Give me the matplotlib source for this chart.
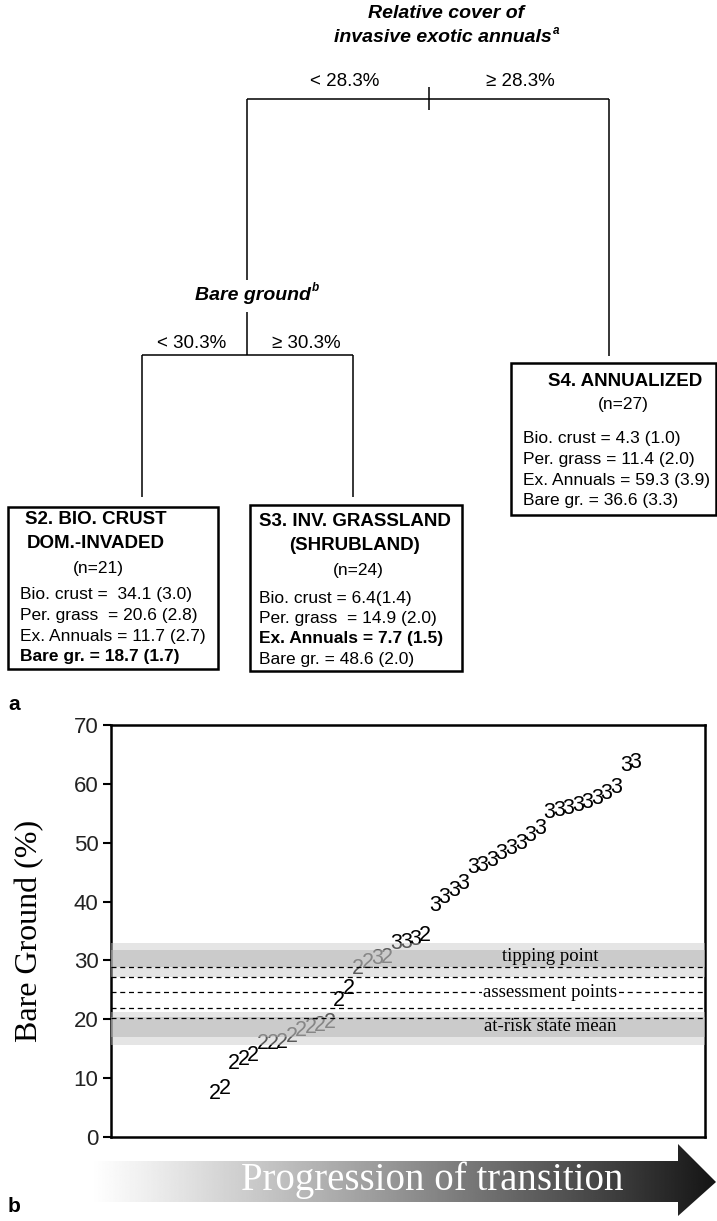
import numpy as np
import matplotlib
matplotlib.use("Agg")
import matplotlib.pyplot as plt
from matplotlib import font_manager
from matplotlib.patches import Rectangle, Polygon

plt.rcParams['font.family'] = ['Liberation Sans', 'DejaVu Sans']

# ---- panel b data: plots ranked along the transition ----
state_codes = list("22222222222222222" "323332" "3333333333333333333333")
bare_ground = [7.4, 8.3, 12.5, 13.1, 13.9, 15.9, 15.9, 16.1, 17.0, 18.1, 18.6,
               19.0, 19.5, 23.2, 25.2, 28.6, 29.7,
               30.3, 30.5, 32.9, 33.1, 33.6, 34.2,
               39.3, 40.7, 41.9, 43.1, 45.8, 46.1, 46.9, 48.1, 49.0, 49.8,
               51.2, 52.5, 55.1, 55.4, 55.8, 56.3, 56.8, 57.5, 58.3, 59.3,
               63.2, 63.6]
y_ticks = [0, 10, 20, 30, 40, 50, 60, 70]
band_outer = [(27.1, 32.9), (15.7, 21.3)]
band_inner = [(28.8, 31.7), (17.0, 20.4)]
dashed_levels = [28.8, 27.1, 24.6, 22.0, 20.2]
band_labels = ["tipping point", "assessment points", "at-risk state mean"]
band_label_levels = [30.7, 24.6, 18.7]

# ---- panel a data: regression tree ----
root_split = ["Relative cover of", "invasive exotic annuals"]
root_cuts = ["< 28.3%", "\u2265 28.3%"]
mid_split = "Bare ground"
mid_cuts = ["< 30.3%", "\u2265 30.3%"]
s2_title = ["S2. BIO. CRUST", "DOM.-INVADED"]
s2_n = "(n=21)"
s2_stats = ["Bio. crust =  34.1 (3.0)", "Per. grass  = 20.6 (2.8)",
            "Ex. Annuals = 11.7 (2.7)", "Bare gr. = 18.7 (1.7)"]
s3_title = ["S3. INV. GRASSLAND", "(SHRUBLAND)"]
s3_n = "(n=24)"
s3_stats = ["Bio. crust = 6.4(1.4)", "Per. grass  = 14.9 (2.0)",
            "Ex. Annuals = 7.7 (1.5)", "Bare gr. = 48.6 (2.0)"]
s4_title = ["S4. ANNUALIZED"]
s4_n = "(n=27)"
s4_stats = ["Bio. crust = 4.3 (1.0)", "Per. grass = 11.4 (2.0)",
            "Ex. Annuals = 59.3 (3.9)", "Bare gr. = 36.6 (3.3)"]

names = {f.name for f in font_manager.fontManager.ttflist}
narrow = 'Liberation Sans Narrow' in names
tree_font = ['Liberation Sans Narrow', 'DejaVu Sans'] if narrow else ['Liberation Sans', 'DejaVu Sans']
fs_stat = 14 if narrow else 12.5
fs_title = 15.5 if narrow else 13.5

fig = plt.figure(figsize=(7.17, 12.21), dpi=100)
ax_px = fig.add_axes([0, 0, 1, 1])
ax_px.axis('off')


def tree_line(xs, ys):
    ax_px.plot(xs, ys, color='black', lw=1.1, solid_capstyle='butt')


def txt(x, y, s, size=fs_stat, weight='normal', style='normal', ha='center', **kw):
    ax_px.text(x, y, s, ha=ha, va='center', fontsize=size, fontweight=weight,
               fontstyle=style, family=tree_font, **kw)


# root split header
txt(446, 14, root_split[0], size=fs_title + 0.5, weight='bold', style='italic')
txt(552, 38, root_split[1], size=fs_title + 0.5, weight='bold', style='italic', ha='right')
txt(553, 31, "a", size=fs_title - 5, weight='bold', style='italic', ha='left')
txt(345, 82, root_cuts[0], size=fs_title)
txt(520, 82, root_cuts[1], size=fs_title)
tree_line([247, 609], [99, 99])
tree_line([429, 429], [87, 110])
tree_line([247, 247], [99, 280])
tree_line([247, 247], [312, 355])
tree_line([609, 609], [99, 356])

# second split
txt(311, 295, mid_split, size=fs_title + 0.5, weight='bold', style='italic', ha='right')
txt(312, 288, "b", size=fs_title - 5, weight='bold', style='italic', ha='left')
txt(192, 343, mid_cuts[0], size=fs_title)
txt(306, 343, mid_cuts[1], size=fs_title)
tree_line([142, 353], [355, 355])
tree_line([142, 142], [355, 497])
tree_line([353, 353], [355, 497])


def node_box(x0, y0, x1, y1, title, title_x, title_y, n_txt, n_x, n_y,
             stats, stat_x, stat_y, bold_row):
    ax_px.add_patch(Rectangle((x0, y0), x1 - x0, y1 - y0, fill=False,
                              edgecolor='black', lw=1.8))
    for i, t in enumerate(title):
        txt(title_x, title_y + 24 * i, t, size=fs_title, weight='bold')
    txt(n_x, n_y, n_txt)
    for i, s in enumerate(stats):
        txt(stat_x, stat_y + 20.5 * i, s, ha='left',
            weight='bold' if i == bold_row else 'normal')


node_box(8, 507, 218, 669, s2_title, 96, 520, s2_n, 98, 568, s2_stats, 20, 595, 3)
node_box(250, 505, 462, 671, s3_title, 355, 522, s3_n, 358, 570, s3_stats, 259, 598, 2)
node_box(511, 363, 716, 515, s4_title, 625, 382, s4_n, 623, 404, s4_stats, 523, 439, None)

ax_px.text(8, 705, "a", fontsize=15, fontweight='bold', va='center', ha='left')
ax_px.text(8, 1207, "b", fontsize=15, fontweight='bold', va='center', ha='left')

# gradient arrow under the plot
shade = 1 - 0.92 * np.linspace(0, 1, 512) ** 1.1
img = np.tile(shade, (2, 1))
im = ax_px.imshow(img, cmap='gray', vmin=0, vmax=1, extent=(90, 717, 1216, 1144),
                  aspect='auto', interpolation='bilinear')
arrow = Polygon([(90, 1161), (678, 1161), (678, 1144), (716, 1182),
                 (678, 1216), (678, 1202), (90, 1202)], closed=True,
                facecolor='none', edgecolor='none')
ax_px.add_patch(arrow)
im.set_clip_path(arrow)
ax_px.text(432, 1180, "Progression of transition", color='white', fontsize=28,
           family='Liberation Serif', ha='center', va='center')

ax_px.set_xlim(0, 717)
ax_px.set_ylim(1221, 0)

# ---- panel b axes ----
ax = fig.add_axes([111 / 717, 1 - 1137 / 1221, 594 / 717, 412 / 1221])
x = np.arange(len(bare_ground))
for xi, yi, code in zip(x, bare_ground, state_codes):
    ax.text(xi, yi, code, ha='center', va='center', fontsize=15.5, zorder=2)

for lo, hi in band_outer:
    ax.axhspan(lo, hi, color=(0.78, 0.78, 0.78), alpha=0.45, lw=0, zorder=3)
for lo, hi in band_inner:
    ax.axhspan(lo, hi, color=(0.70, 0.70, 0.70), alpha=0.5, lw=0, zorder=3.1)
for lev in dashed_levels:
    ax.axhline(lev, color='black', lw=0.9, ls=(0, (4, 3)), zorder=4)

trans = ax.get_yaxis_transform()
for lab, lev in zip(band_labels, band_label_levels):
    box = dict(facecolor='white', edgecolor='none', pad=1) if lab == "assessment points" else None
    ax.text(0.739, lev, lab, transform=trans, ha='center', va='center',
            fontsize=13.5, family='Liberation Serif', zorder=5, bbox=box)

ax.set_xlim(-10.9, 51.3)
ax.set_ylim(0, 70)
ax.set_yticks(y_ticks)
ax.set_xticks([])
ax.tick_params(axis='y', length=6, width=1.5, labelsize=16, pad=3, labelcolor='#222222')
for sp in ax.spines.values():
    sp.set_linewidth(1.8)
ax.set_ylabel("Bare Ground (%)", family='Liberation Serif', fontsize=23)
ax.yaxis.set_label_coords(-0.113, 0.5)

fig.savefig("out.png", dpi=100)
